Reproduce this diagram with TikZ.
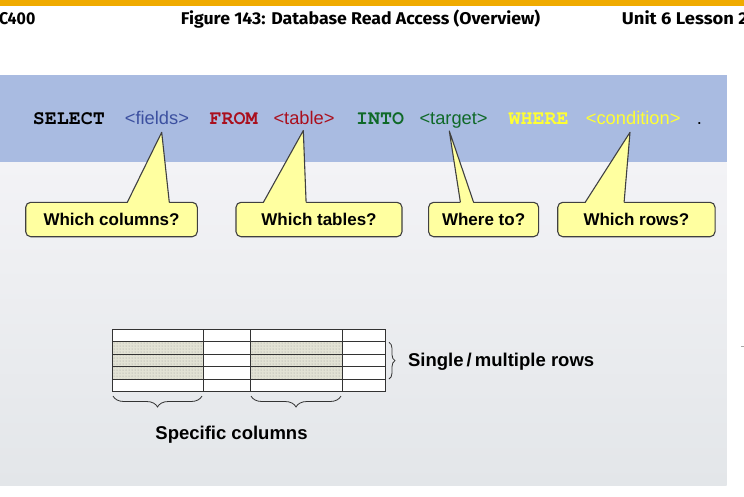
\documentclass[tikz,border=0pt]{standalone}
\usepackage[T1]{fontenc}
\usepackage{fontspec}
\setmainfont{Liberation Sans}
\newfontfamily\hdrfont{Fira Sans}
\newcommand{\sqlkw}{\fontencoding{T1}\fontfamily{pcr}\fontseries{b}\selectfont}
\usepackage{xcolor}
\usetikzlibrary{decorations.pathreplacing, patterns, positioning}

\definecolor{sapgold}{RGB}{240,171,0}
\definecolor{bandblue}{RGB}{169,187,225}
\definecolor{paneltop}{RGB}{243,243,246}
\definecolor{panelbot}{RGB}{227,230,233}
\definecolor{noteyellow}{RGB}{255,255,160}
\definecolor{fldblue}{RGB}{60,80,160}
\definecolor{kwred}{RGB}{170,15,30}
\definecolor{kwgreen}{RGB}{15,105,40}
\definecolor{kwyellow}{RGB}{255,255,50}
\definecolor{cellshade}{RGB}{226,226,212}

\begin{document}
\begin{tikzpicture}[x=1pt, y=-1pt,
  note/.style={draw=black!75, fill=noteyellow, rounded corners=5pt, line width=1.1pt,
    minimum height=34.4pt, inner sep=0pt, font=\fontsize{17}{20}\selectfont\bfseries},
  noteline/.style={draw=black!75, line width=1.1pt, line join=round},
  kw/.style={anchor=base west, inner sep=0pt, font=\fontsize{20}{24}\sqlkw},
  arg/.style={anchor=base west, inner sep=0pt, font=\fontsize{18.3}{22}\selectfont},
  hdr/.style={anchor=base west, inner sep=0pt, font=\fontsize{17}{20}\hdrfont\bfseries},
  cell/.style={draw=black!80, line width=0.9pt},
  grp/.style={decorate, decoration={brace, amplitude=#1}, draw=black!80, line width=0.8pt},
  lbl/.style={inner sep=0pt, font=\fontsize{18.5}{22}\selectfont\bfseries}]
\useasboundingbox (0,0) rectangle (744,496);
\clip (0,0) rectangle (744,496);

% Header bar
\fill[sapgold] (0,0) rectangle (744,6);
\node[hdr, anchor=base east] (course) at (35.6,24) {\resizebox{46pt}{\height}{BC400}};
\node[hdr] (title) at (180.7,24) {\resizebox{359.3pt}{\height}{Figure 143: Database Read Access (Overview)}};
\node[hdr] (unit) at (621.7,24) {\resizebox{126pt}{\height}{Unit 6 Lesson 2}};

% Panel (band + body)
\shade[top color=paneltop, bottom color=panelbot] (0,162) rectangle (726.7,485);
\fill[bandblue] (0,75) rectangle (726.7,162);
\fill[gray!70] (741,345.5) rectangle (744,347);

% Statement
\node[kw] (select) at (32.7,124) {SELECT};
\node[arg, fldblue] (fields) at (124.7,124) {<fields>};
\node[kw, kwred] (from) at (209.3,124) {FROM};
\node[arg, kwred] (table) at (273.3,124) {<table>};
\node[kw, kwgreen] (into) at (356,124) {INTO};
\node[arg, kwgreen] (target) at (419.3,124) {<target>};
\node[kw, kwyellow] (where) at (508.3,124) {WHERE};
\node[arg, kwyellow] (cond) at (585.7,124) {<condition>};
\node[arg] (stop) at (696.7,124) {.};

% Callouts
\node[note, minimum width=171.6pt] (cols) at (111.5,219.5) {Which columns?};
\node[note, minimum width=166pt] (tabs) at (319,219.5) {Which tables?};
\node[note, minimum width=110pt] (dest) at (483.6,219.5) {Where to?};
\node[note, minimum width=157.3pt] (rows) at (636.4,219.5) {Which rows?};

\coordinate (tipF) at (161.7,132.3);
\coordinate (tipT) at (303.3,130.5);
\coordinate (tipG) at (449.3,131);
\coordinate (tipC) at (630,132.3);

\foreach \tip/\l/\r in {tipF/127.3/169.3, tipT/263.4/306.1, tipG/460.4/473.6, tipC/585.2/624.1} {
  \fill[noteyellow] (\l,203.6) -- (\tip) -- (\r,203.6) -- cycle;
  \draw[noteline] (\l,202.3) -- (\tip) -- (\r,202.3);
}

% Table
\fill[white] (112.3,329) rectangle (385.7,391.7);
\foreach \xa/\xb in {112.3/203.7, 250/342.3} {
  \fill[cellshade] (\xa,341.5) rectangle (\xb,379.2);
  \fill[pattern=dots, pattern color=gray!80] (\xa,341.5) rectangle (\xb,379.2);
}
\foreach \i in {0,...,5}
  \draw[cell] (112.3,{329+12.54*\i}) -- (385.7,{329+12.54*\i});
\foreach \x in {112.3, 203.7, 250, 342.3, 385.7}
  \draw[cell] (\x,329) -- (\x,391.7);

% Braces
\draw[grp=6pt] (389,342.3) -- (389,379)
  node[lbl, anchor=base west] (rowlbl) at (407.7,366) {Single\,/\,multiple rows};
\draw[grp=11pt] (202,396) -- (113,396);
\draw[grp=11pt] (341,396) -- (251,396);
\node[lbl, anchor=base] (collbl) at (231.5,439.3) {Specific columns};
\end{tikzpicture}
\end{document}
